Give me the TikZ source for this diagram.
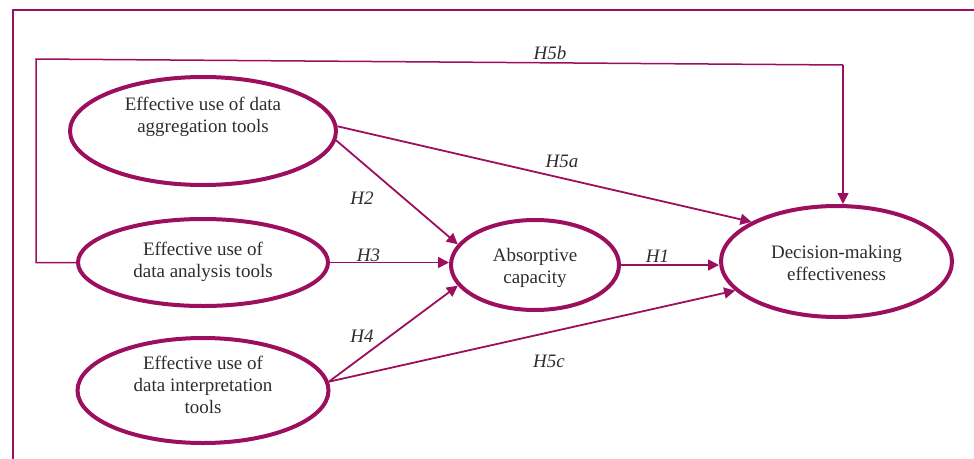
\documentclass[tikz,border=0pt]{standalone}
\usepackage{fontspec}
\setmainfont{Liberation Serif}
\usetikzlibrary{shapes.geometric,arrows.meta}
\definecolor{plum}{RGB}{156,14,94}
\definecolor{ink}{RGB}{45,45,45}
\begin{document}
\begin{tikzpicture}[x=1pt,y=-1pt,
  construct/.style={ellipse, draw=plum, line width=4pt, inner sep=0pt},
  words/.style={text=ink, align=center, inner sep=0pt, font=\fontsize{19}{22}\selectfont},
  hyp/.style={text=ink, inner sep=0pt, font=\fontsize{19}{22}\selectfont\itshape},
  link/.style={draw=plum, line width=1.8pt, -{Triangle[length=11pt,width=11pt]}},
  feed/.style={draw=plum, line width=1.5pt},
]
\useasboundingbox (0,0) rectangle (974,458);

% outer frame (runs past the right and bottom edges)
\draw[plum, line width=2.5pt, line join=miter] (13,470) -- (13,10) -- (990,10);

% constructs
\node[construct, minimum width=266pt, minimum height=108pt] (agg) at (203,131) {};
\node[construct, minimum width=250pt, minimum height=87pt] (ana) at (203,262.5) {};
\node[construct, minimum width=251pt, minimum height=105pt] (itp) at (203,390.5) {};
\node[construct, minimum width=168pt, minimum height=90pt] (abs) at (535,265) {};
\node[construct, minimum width=231pt, minimum height=111pt] (dec) at (836.5,261.5) {};

\node[words] (aggtxt) at (203,117) {Effective use of data\\aggregation tools};
\node[words] (anatxt) at (203,261.5) {Effective use of\\data analysis tools};
\node[words] (itptxt) at (203,384.5) {Effective use of\\data interpretation\\tools};
\node[words] (abstxt) at (535,268) {Absorptive\\capacity};
\node[words] (dectxt) at (836.5,262.5) {Decision-making\\effectiveness};

% hypothesised paths
\draw[link] (agg.2) -- (dec.155);
\draw[link] (agg.-4) -- (abs.165);
\draw[link] (ana.east) -- (ana.east -| abs.west);
\draw[link] (itp.4) -- (abs.195);
\draw[link] (itp.4) -- (dec.196);
\draw[link] (abs.east) -- (abs.east -| dec.west);

% H5b loops round the top
\coordinate (b1) at (36,59);
\coordinate (b2) at (843,65);
\draw[feed] (ana.west) -- (ana.west -| b1) -- (b1) -- (b2);
\draw[link, line width=1.5pt] (b2) -- (b2 |- dec.north);

% hypothesis labels
\node[hyp] (h5b) at (550,52.5) {H5b};
\node[hyp] (h5a) at (562,161.5) {H5a};
\node[hyp] (h2) at (362,198.5) {H2};
\node[hyp] (h3) at (368.5,255) {H3};
\node[hyp] (h1) at (657.5,256.5) {H1};
\node[hyp] (h4) at (362,336.5) {H4};
\node[hyp] (h5c) at (549,361) {H5c};
\end{tikzpicture}
\end{document}
